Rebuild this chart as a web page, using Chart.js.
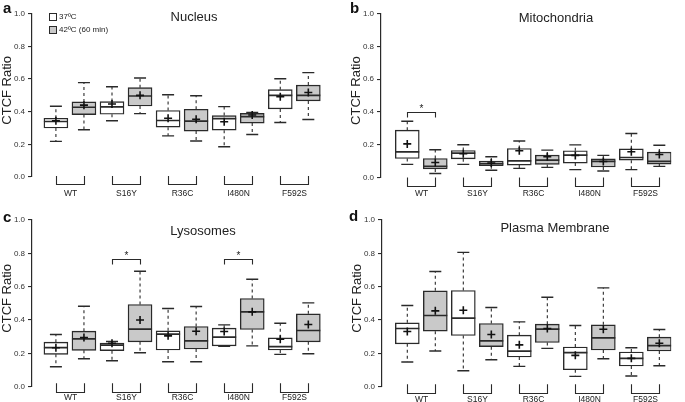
<!DOCTYPE html>
<html>
<head>
<meta charset="utf-8">
<script src="https://cdn.jsdelivr.net/npm/chart.js@4.4.1/dist/chart.umd.min.js"></script>
<style>
  body { margin: 0; background: #fff; }
  #wrap { position: relative; width: 685px; height: 402px; overflow: hidden; }
  canvas { position: absolute; }
</style>
</head>
<body>
<div id="wrap">
  <canvas id="nucleus" width="345" height="200" style="left:0;top:0"></canvas>
  <canvas id="mito" width="336" height="200" style="left:349px;top:0"></canvas>
  <canvas id="lyso" width="345" height="197" style="left:0;top:205px"></canvas>
  <canvas id="plasma" width="336" height="197" style="left:349px;top:205px"></canvas>
</div>
<script>
// groups on the x axis, each has a 37ºC box then a 42ºC box
const groups = ["WT", "S16Y", "R36C", "I480N", "F592S"];
const seriesNames = ["37ºC", "42ºC (60 min)"];
const yTicks = [0, 0.2, 0.4, 0.6, 0.8, 1.0];

// box order: WT 37, WT 42, S16Y 37, S16Y 42, R36C 37, R36C 42, I480N 37, I480N 42, F592S 37, F592S 42
// Nucleus
const nucMin    = [0.218, 0.289, 0.344, 0.388, 0.252, 0.220, 0.185, 0.260, 0.334, 0.352];
const nucQ1     = [0.300, 0.382, 0.384, 0.435, 0.305, 0.281, 0.287, 0.330, 0.417, 0.466];
const nucMedian = [0.340, 0.427, 0.430, 0.496, 0.346, 0.342, 0.358, 0.370, 0.500, 0.500];
const nucQ3     = [0.360, 0.460, 0.462, 0.547, 0.407, 0.415, 0.376, 0.390, 0.535, 0.563];
const nucMax    = [0.433, 0.578, 0.553, 0.606, 0.504, 0.498, 0.431, 0.395, 0.602, 0.639];
const nucMean   = [0.344, 0.440, 0.447, 0.500, 0.360, 0.354, 0.338, 0.380, 0.492, 0.517];

// Mitochondria
const mitoMin    = [0.080, 0.024, 0.080, 0.044, 0.056, 0.062, 0.048, 0.040, 0.048, 0.068];
const mitoQ1     = [0.116, 0.052, 0.114, 0.072, 0.076, 0.080, 0.088, 0.064, 0.106, 0.082];
const mitoMedian = [0.157, 0.068, 0.149, 0.084, 0.102, 0.106, 0.137, 0.098, 0.122, 0.098];
const mitoQ3     = [0.289, 0.116, 0.165, 0.100, 0.177, 0.137, 0.163, 0.114, 0.175, 0.155];
const mitoMax    = [0.343, 0.169, 0.200, 0.127, 0.223, 0.167, 0.199, 0.135, 0.269, 0.197];
const mitoMean   = [0.205, 0.092, 0.145, 0.088, 0.163, 0.127, 0.135, 0.098, 0.157, 0.140];

// Lysosomes
const lysoMin    = [0.120, 0.168, 0.156, 0.204, 0.150, 0.150, 0.242, 0.245, 0.194, 0.198];
const lysoQ1     = [0.194, 0.218, 0.216, 0.269, 0.220, 0.226, 0.245, 0.343, 0.220, 0.269];
const lysoMedian = [0.234, 0.287, 0.249, 0.345, 0.315, 0.275, 0.297, 0.449, 0.241, 0.337];
const lysoQ3     = [0.267, 0.333, 0.261, 0.493, 0.335, 0.361, 0.351, 0.529, 0.293, 0.437];
const lysoMax    = [0.313, 0.483, 0.271, 0.693, 0.469, 0.481, 0.371, 0.645, 0.381, 0.503];
const lysoMean   = [0.234, 0.295, 0.261, 0.400, 0.305, 0.333, 0.331, 0.449, 0.285, 0.373];

// Plasma Membrane
const pmMin    = [0.148, 0.214, 0.096, 0.162, 0.122, 0.230, 0.062, 0.168, 0.064, 0.126];
const pmQ1     = [0.257, 0.333, 0.307, 0.240, 0.178, 0.265, 0.102, 0.220, 0.124, 0.214];
const pmMedian = [0.349, 0.427, 0.411, 0.275, 0.214, 0.345, 0.204, 0.293, 0.170, 0.246];
const pmQ3     = [0.383, 0.575, 0.577, 0.379, 0.309, 0.375, 0.238, 0.371, 0.208, 0.297];
const pmMax    = [0.487, 0.691, 0.806, 0.475, 0.389, 0.537, 0.367, 0.593, 0.234, 0.343];
const pmMean   = [0.331, 0.455, 0.459, 0.313, 0.251, 0.349, 0.188, 0.345, 0.170, 0.261];

// significance brackets: [box from, box to] and height
const mitoSig = [[1, 2]];
const mitoSigY = [0.40];
const lysoSig = [[3, 4], [7, 8]];
const lysoSigY = [0.765, 0.765];

const FONT = '"Liberation Sans", Arial, Helvetica, sans-serif';
const INK = "#2a2a2a";
const GREY = "#c9c9c9";
Chart.defaults.font.family = FONT;

// ===============================
// plugin: brackets, labels, title
// ===============================
const decor = {
  id: "decor",
  afterDraw(chart, args, o) {
    const ctx = chart.ctx, xs = chart.scales.x, ys = chart.scales.y, a = chart.chartArea;
    const y0 = ys.getPixelForValue(0);
    ctx.save();
    ctx.strokeStyle = INK;
    ctx.fillStyle = "#222";
    ctx.lineWidth = 1.1;

    // group brackets below the boxes
    ctx.font = "8.5px " + FONT;
    ctx.textAlign = "center";
    ctx.textBaseline = "middle";
    groups.forEach((g, i) => {
      const x1 = Math.round(xs.getPixelForValue(2 * i + 1)) + 0.5;
      const x2 = Math.round(xs.getPixelForValue(2 * i + 2)) + 0.5;
      const t = y0 + o.brTop, b = Math.round(y0 + o.brBot) + 0.5;
      ctx.beginPath();
      ctx.moveTo(x1, t); ctx.lineTo(x1, b); ctx.lineTo(x2, b); ctx.lineTo(x2, t);
      ctx.stroke();
      ctx.fillText(g, (x1 + x2) / 2, y0 + o.labDy);
    });

    // significance brackets
    (o.sig || []).forEach((p, k) => {
      const x1 = Math.round(xs.getPixelForValue(p[0])) + 0.5;
      const x2 = Math.round(xs.getPixelForValue(p[1])) + 0.5;
      const py = Math.round(ys.getPixelForValue(o.sigY[k])) + 0.5;
      ctx.beginPath();
      ctx.moveTo(x1, py + 5); ctx.lineTo(x1, py); ctx.lineTo(x2, py); ctx.lineTo(x2, py + 5);
      ctx.stroke();
      ctx.font = "10px " + FONT;
      ctx.fillText("*", (x1 + x2) / 2, py - 3);
    });

    // title
    ctx.font = "13px " + FONT;
    ctx.fillText(o.title, o.titleX, o.titleY);

    // y axis title
    ctx.save();
    ctx.translate(a.left - 24.5, (a.top + a.bottom) / 2 - 5);
    ctx.rotate(-Math.PI / 2);
    ctx.font = "13px " + FONT;
    ctx.fillText("CTCF Ratio", 0, 0);
    ctx.restore();

    // panel letter
    ctx.textAlign = "left";
    ctx.textBaseline = "alphabetic";
    ctx.font = "bold 15px " + FONT;
    ctx.fillStyle = "#111";
    ctx.fillText(o.letter, o.letterX, o.letterY);

    // legend (panel a only)
    if (o.legend) {
      ctx.font = "8px " + FONT;
      ctx.textBaseline = "middle";
      ctx.lineWidth = 1;
      [["#fff", 13], [GREY, 26]].forEach((s, i) => {
        ctx.fillStyle = s[0];
        ctx.fillRect(49.5, s[1] + 0.5, 7, 7);
        ctx.strokeRect(49.5, s[1] + 0.5, 7, 7);
        ctx.fillStyle = "#222";
        ctx.fillText(seriesNames[i], 59, s[1] + 4);
      });
    }
    ctx.restore();
  }
};

// ===============================
// one box plot panel
// ===============================
const UNIT = 29.33; // px between neighbouring boxes

function makePanel(id, st, lay) {
  const canvas = document.getElementById(id);
  const xMin = 1 - (lay.first - lay.axisX) / UNIT;
  const xMax = xMin + (lay.left + canvas.width - lay.axisX) / UNIT;
  const idx37 = [0, 2, 4, 6, 8], idx42 = [1, 3, 5, 7, 9];

  const whiskers = [];
  st.q3.forEach((v, i) => {
    whiskers.push({ x: i + 1, y: st.q3[i] }, { x: i + 1, y: st.max[i] }, { x: i + 1, y: null },
                  { x: i + 1, y: st.q1[i] }, { x: i + 1, y: st.min[i] }, { x: i + 1, y: null });
  });
  const caps = [];
  st.min.forEach((v, i) => caps.push({ x: i + 1, y: st.min[i] }, { x: i + 1, y: st.max[i] }));

  const boxSet = (idx, fill, name) => ({
    type: "bar",
    label: name,
    data: idx.map(i => ({ x: i + 1, y: [st.q1[i], st.q3[i]] })),
    backgroundColor: fill,
    borderColor: INK,
    borderWidth: 1.4,
    borderSkipped: false,
    barThickness: 24,
    grouped: false,
    order: 3
  });

  new Chart(canvas, {
    type: "bar",
    data: {
      datasets: [
        {
          type: "line",
          data: whiskers,
          borderColor: INK,
          borderWidth: 1.1,
          borderDash: [3, 3],
          pointRadius: 0,
          spanGaps: false,
          order: 5
        },
        {
          type: "scatter",
          data: caps,
          pointStyle: "line",
          pointRadius: 6,
          pointBorderWidth: 1.4,
          pointBorderColor: INK,
          order: 4
        },
        boxSet(idx37, "#ffffff", seriesNames[0]),
        boxSet(idx42, GREY, seriesNames[1]),
        {
          type: "scatter",
          data: st.median.map((v, i) => ({ x: i + 1, y: v })),
          pointStyle: "line",
          pointRadius: 12,
          pointBorderWidth: 1.7,
          pointBorderColor: INK,
          order: 2
        },
        {
          type: "scatter",
          data: st.mean.map((v, i) => ({ x: i + 1, y: v })),
          pointStyle: "cross",
          pointRadius: 4,
          pointBorderWidth: 1.6,
          pointBorderColor: "#111",
          order: 1
        }
      ]
    },
    options: {
      responsive: false,
      animation: false,
      events: [],
      devicePixelRatio: 1,
      layout: { padding: { top: lay.y1 - lay.top, bottom: lay.top + canvas.height - lay.y0, left: 0, right: 0 } },
      plugins: {
        legend: { display: false },
        tooltip: { enabled: false },
        decor: lay.decor
      },
      scales: {
        x: { type: "linear", display: false, min: xMin, max: xMax, offset: false },
        y: {
          min: 0, max: 1,
          afterBuildTicks: s => { s.ticks = yTicks.map(v => ({ value: v })); },
          ticks: { callback: v => Number(v).toFixed(1), font: { size: 8 }, color: "#333", padding: 3 },
          grid: { drawOnChartArea: false, drawTicks: true, tickLength: 4, color: INK, lineWidth: 1.1 },
          border: { color: INK, width: 1.2 },
          afterFit: s => { s.width = lay.axisX - lay.left; }
        }
      }
    },
    plugins: [decor]
  });
}

makePanel("nucleus",
  { min: nucMin, q1: nucQ1, median: nucMedian, q3: nucQ3, max: nucMax, mean: nucMean },
  { left: 0, top: 0, axisX: 32, first: 57, y1: 12.5, y0: 177,
    decor: { title: "Nucleus", titleX: 194, titleY: 17, letter: "a", letterX: 3, letterY: 12.5,
             brTop: -1, brBot: 7, labDy: 17, legend: true } });

makePanel("mito",
  { min: mitoMin, q1: mitoQ1, median: mitoMedian, q3: mitoQ3, max: mitoMax, mean: mitoMean },
  { left: 349, top: 0, axisX: 381, first: 408.5, y1: 12, y0: 177.5,
    decor: { title: "Mitochondria", titleX: 207, titleY: 18, letter: "b", letterX: 1, letterY: 12.5,
             brTop: 0, brBot: 8, labDy: 16.5, sig: mitoSig, sigY: mitoSigY } });

makePanel("lyso",
  { min: lysoMin, q1: lysoQ1, median: lysoMedian, q3: lysoQ3, max: lysoMax, mean: lysoMean },
  { left: 0, top: 205, axisX: 32, first: 57, y1: 220, y0: 386.7,
    decor: { title: "Lysosomes", titleX: 203, titleY: 26.5, letter: "c", letterX: 3, letterY: 17,
             brTop: -3.5, brBot: 5, labDy: 11, sig: lysoSig, sigY: lysoSigY } });

makePanel("plasma",
  { min: pmMin, q1: pmQ1, median: pmMedian, q3: pmQ3, max: pmMax, mean: pmMean },
  { left: 349, top: 205, axisX: 382, first: 408.5, y1: 220, y0: 386.7,
    decor: { title: "Plasma Membrane", titleX: 206, titleY: 23.5, letter: "d", letterX: 0, letterY: 16,
             brTop: -2.5, brBot: 6, labDy: 12.5 } });
</script>
</body>
</html>
